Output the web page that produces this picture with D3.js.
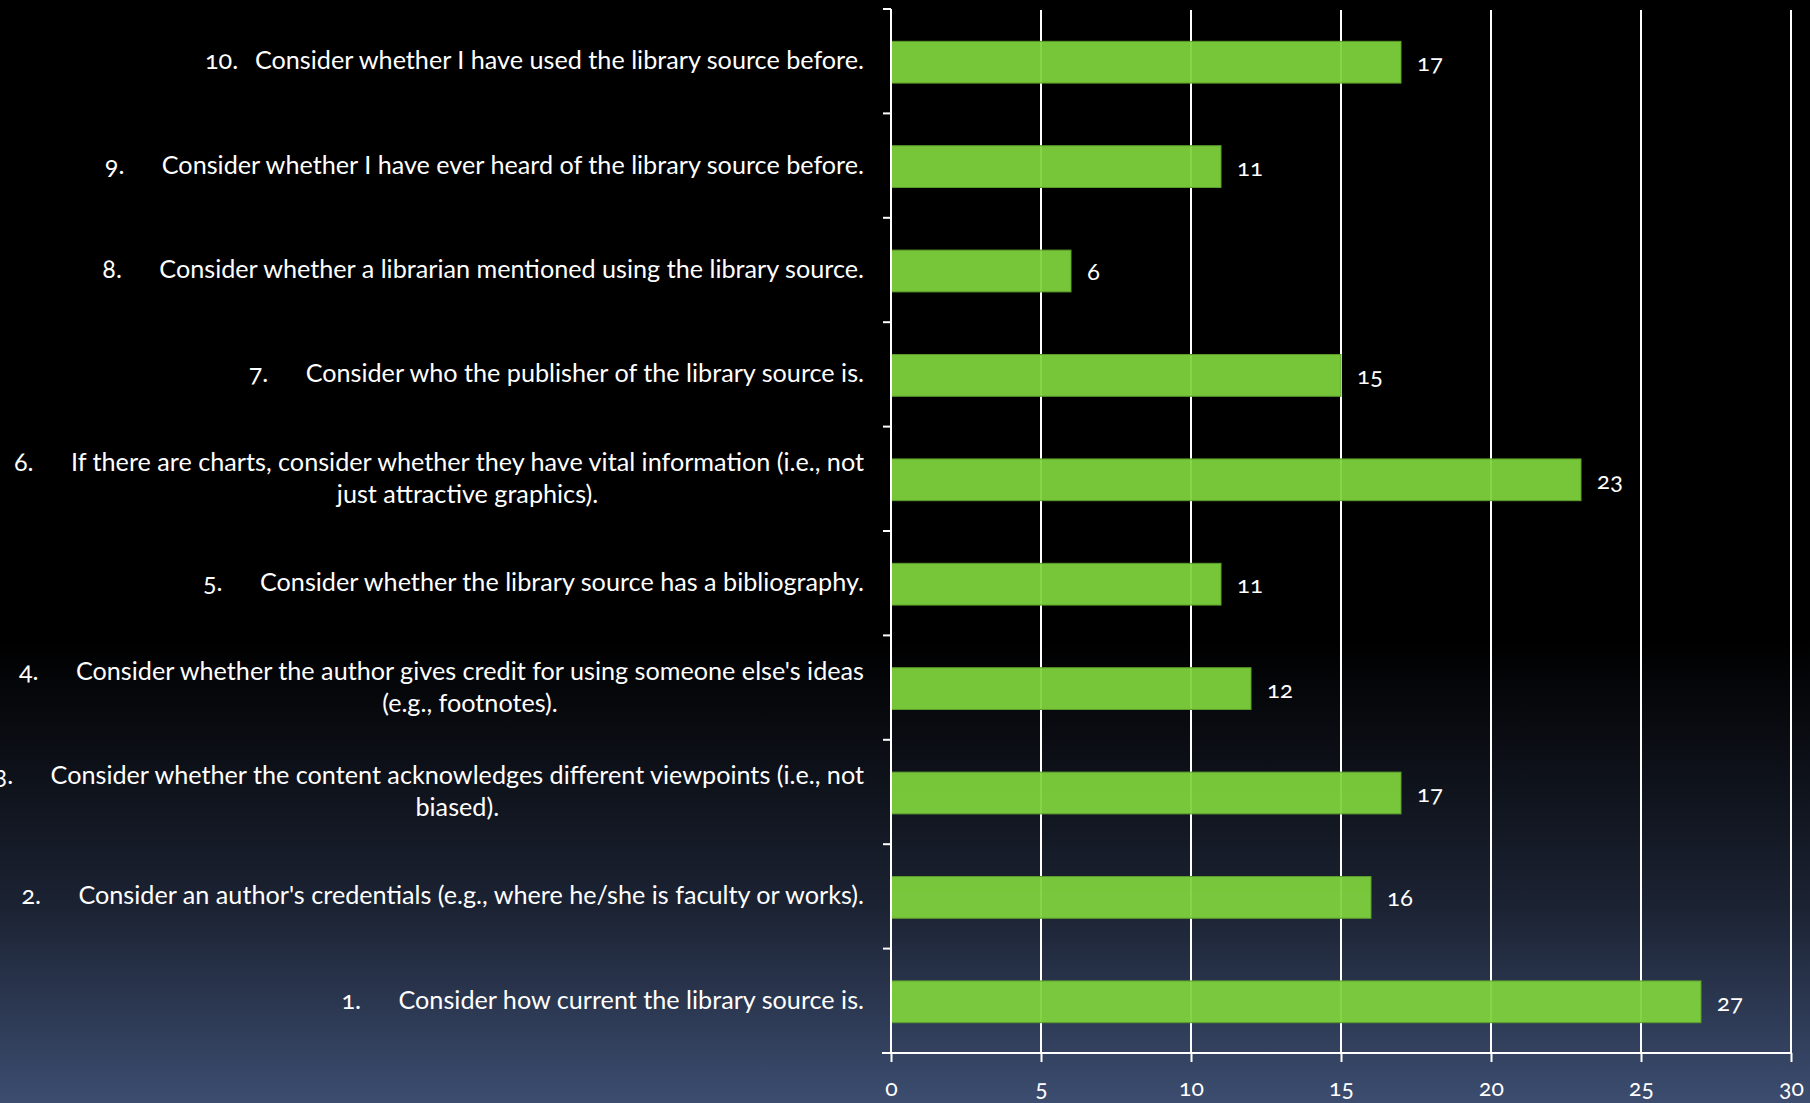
<!DOCTYPE html>
<html>
<head>
<meta charset="utf-8">
<script src="https://cdn.jsdelivr.net/npm/d3@7"></script>
<style>
  html, body { margin: 0; padding: 0; background: #000; }
  svg { display: block; }
  text { font-family: Lato, "Open Sans", sans-serif; fill: #fff; font-variant-numeric: oldstyle-nums; }
</style>
</head>
<body>
<svg id="chart" width="1810" height="1103"></svg>
<script>
// ---- data ----
const categories = ["10", "9", "8", "7", "6", "5", "4", "3", "2", "1"];
const itemNumbers = ["10.", "9.", "8.", "7.", "6.", "5.", "4.", "3.", "2.", "1."];
const itemLines = [
  ["Consider whether I have used the library source before."],
  ["Consider whether I have ever heard of the library source before."],
  ["Consider whether a librarian mentioned using the library source."],
  ["Consider who the publisher of the library source is."],
  ["If there are charts, consider whether they have vital information (i.e., not", "just attractive graphics)."],
  ["Consider whether the library source has a bibliography."],
  ["Consider whether the author gives credit for using someone else's ideas", "(e.g., footnotes)."],
  ["Consider whether the content acknowledges different viewpoints (i.e., not", "biased)."],
  ["Consider an author's credentials (e.g., where he/she is faculty or works)."],
  ["Consider how current the library source is."]
];
const values = [17, 11, 6, 15, 23, 11, 12, 17, 16, 27];
const xTicks = [0, 5, 10, 15, 20, 25, 30];

// ---- layout ----
const W = 1810, H = 1103;
const x0 = 891, x1 = 1791, yTop = 9, yBot = 1053;
const labelRight = 864;
const labelSize = 25.2;

const svg = d3.select("#chart");
const defs = svg.append("defs");
const grad = defs.append("linearGradient").attr("id", "bg").attr("x1", 0).attr("y1", 0).attr("x2", 0).attr("y2", 1);
grad.append("stop").attr("offset", "0").attr("stop-color", "#000000");
grad.append("stop").attr("offset", "0.58").attr("stop-color", "#000000");
grad.append("stop").attr("offset", "0.82").attr("stop-color", "#1b2232");
grad.append("stop").attr("offset", "1").attr("stop-color", "#3c4d70");
svg.append("rect").attr("width", W).attr("height", H).attr("fill", "url(#bg)");

const x = d3.scaleLinear().domain([0, 30]).range([x0, x1]);
const y = d3.scaleBand().domain(categories).range([yTop, yBot]).padding(0);
const barH = y.bandwidth() * 0.4;

// gridlines
svg.append("g").selectAll("line").data(xTicks.filter(t => t > 0)).join("line")
  .attr("x1", d => x(d)).attr("x2", d => x(d))
  .attr("y1", yTop + 1).attr("y2", yBot)
  .attr("stroke", "#ffffff").attr("stroke-width", 2);

// bars
svg.append("g").selectAll("rect").data(categories).join("rect")
  .attr("x", x(0))
  .attr("y", (c) => y(c) + (y.bandwidth() - barH) / 2 + 1)
  .attr("width", (c, i) => x(values[i]) - x(0))
  .attr("height", barH)
  .attr("fill", "#7ed13d")
  .attr("fill-opacity", 0.94)
  .attr("stroke", "#5c9e2c")
  .attr("stroke-width", 1);

// value labels
svg.append("g").selectAll("text").data(categories).join("text")
  .attr("x", (c, i) => x(values[i]) + 16)
  .attr("y", c => y(c) + y.bandwidth() / 2 + 10)
  .attr("font-size", 24)
  .text((c, i) => values[i]);

// y axis
const bounds = categories.map(c => y(c)).concat([yBot]);
const gy = svg.append("g").attr("transform", `translate(${x0},0)`);
gy.selectAll("line.b").data(bounds).join("line").attr("class", "b")
  .attr("x1", -8).attr("x2", 0).attr("y1", d => d).attr("y2", d => d)
  .attr("stroke", "#fff").attr("stroke-width", 2);
gy.append("line").attr("x1", 0).attr("x2", 0).attr("y1", yTop).attr("y2", yBot)
  .attr("stroke", "#fff").attr("stroke-width", 2);

// x axis
const xAxis = d3.axisBottom(x).tickValues(xTicks).tickSize(9).tickPadding(18).tickFormat(d3.format("d"));
const gx = svg.append("g").attr("transform", `translate(0,${yBot})`).call(xAxis);
gx.select(".domain").attr("d", `M${x0 - 9},0H${x1}`).attr("stroke", "#fff").attr("stroke-width", 2);
gx.selectAll(".tick line").attr("stroke", "#fff").attr("stroke-width", 2);
gx.selectAll(".tick text").attr("font-size", 23).attr("fill", "#fff")
  .style("font-family", "Lato, 'Open Sans', sans-serif");

// category labels
const lab = svg.append("g");
categories.forEach((c, i) => {
  const lines = itemLines[i];
  const cy = y(c) + y.bandwidth() / 2;
  const lh = 32;
  const yStart = cy - (lines.length - 1) * lh / 2 + 8;
  const first = lab.append("text")
    .attr("x", labelRight).attr("y", yStart)
    .attr("text-anchor", "end").attr("font-size", labelSize)
    .text(lines[0]);
  const w = first.node().getComputedTextLength();
  const textStart = labelRight - w;
  const center = labelRight - w / 2;
  lab.append("text")
    .attr("x", textStart - (itemNumbers[i].length > 2 ? 50 : 57)).attr("y", yStart)
    .attr("font-size", labelSize)
    .text(itemNumbers[i]);
  for (let k = 1; k < lines.length; k++) {
    lab.append("text")
      .attr("x", center).attr("y", yStart + k * lh)
      .attr("text-anchor", "middle").attr("font-size", labelSize)
      .text(lines[k]);
  }
});
</script>
</body>
</html>
